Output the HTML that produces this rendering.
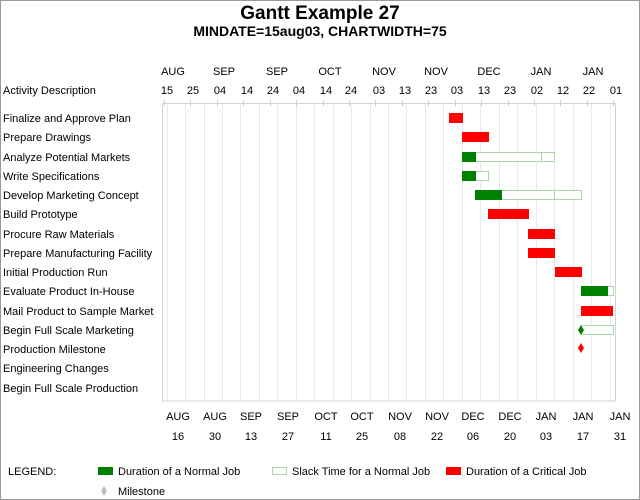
<!DOCTYPE html>
<html><head><meta charset="utf-8"><style>
html,body{margin:0;padding:0;background:#fff}
svg{display:block}
text{font-family:"Liberation Sans",Arial,sans-serif;fill:#000}
</style></head><body>
<svg width="640" height="500" viewBox="0 0 640 500" xmlns="http://www.w3.org/2000/svg">
<rect x="0.5" y="0.5" width="639" height="499" fill="#fff" stroke="#999"/>
<text x="320" y="19" font-size="19" font-weight="bold" text-anchor="middle">Gantt Example 27</text>
<text x="320" y="36" font-size="14" font-weight="bold" text-anchor="middle">MINDATE=15aug03, CHARTWIDTH=75</text>
<g font-size="11" text-anchor="middle">
<text x="173" y="75">AUG</text><text x="224" y="75">SEP</text><text x="277" y="75">SEP</text><text x="330" y="75">OCT</text><text x="384" y="75">NOV</text><text x="436" y="75">NOV</text><text x="489" y="75">DEC</text><text x="541" y="75">JAN</text><text x="593" y="75">JAN</text>
<text x="167" y="94">15</text><text x="193" y="94">25</text><text x="220" y="94">04</text><text x="247" y="94">14</text><text x="273" y="94">24</text><text x="299" y="94">04</text><text x="326" y="94">14</text><text x="351" y="94">24</text><text x="379" y="94">03</text><text x="405" y="94">13</text><text x="431" y="94">23</text><text x="457" y="94">03</text><text x="484" y="94">13</text><text x="510" y="94">23</text><text x="537" y="94">02</text><text x="563" y="94">12</text><text x="589" y="94">22</text><text x="616" y="94">01</text>
<text x="178" y="420">AUG</text><text x="215" y="420">AUG</text><text x="251" y="420">SEP</text><text x="288" y="420">SEP</text><text x="326" y="420">OCT</text><text x="362" y="420">OCT</text><text x="400" y="420">NOV</text><text x="437" y="420">NOV</text><text x="473" y="420">DEC</text><text x="510" y="420">DEC</text><text x="546" y="420">JAN</text><text x="583" y="420">JAN</text><text x="620" y="420">JAN</text>
<text x="178" y="440">16</text><text x="215" y="440">30</text><text x="251" y="440">13</text><text x="288" y="440">27</text><text x="326" y="440">11</text><text x="362" y="440">25</text><text x="400" y="440">08</text><text x="437" y="440">22</text><text x="473" y="440">06</text><text x="510" y="440">20</text><text x="546" y="440">03</text><text x="583" y="440">17</text><text x="620" y="440">31</text>
</g>
<g font-size="11">
<text x="3" y="94">Activity Description</text>
<text x="3" y="122">Finalize and Approve Plan</text>
<text x="3" y="141">Prepare Drawings</text>
<text x="3" y="161">Analyze Potential Markets</text>
<text x="3" y="180">Write Specifications</text>
<text x="3" y="199">Develop Marketing Concept</text>
<text x="3" y="218">Build Prototype</text>
<text x="3" y="238">Procure Raw Materials</text>
<text x="3" y="257">Prepare Manufacturing Facility</text>
<text x="3" y="276">Initial Production Run</text>
<text x="3" y="295">Evaluate Product In-House</text>
<text x="3" y="315">Mail Product to Sample Market</text>
<text x="3" y="334">Begin Full Scale Marketing</text>
<text x="3" y="353">Production Milestone</text>
<text x="3" y="372">Engineering Changes</text>
<text x="3" y="392">Begin Full Scale Production</text>
</g>
<g stroke="#e6e9f0" stroke-width="1">
<line x1="167.5" y1="103" x2="167.5" y2="401"/><line x1="185.5" y1="103" x2="185.5" y2="401"/><line x1="204.5" y1="103" x2="204.5" y2="401"/><line x1="222.5" y1="103" x2="222.5" y2="401"/><line x1="240.5" y1="103" x2="240.5" y2="401"/><line x1="259.5" y1="103" x2="259.5" y2="401"/><line x1="277.5" y1="103" x2="277.5" y2="401"/><line x1="296.5" y1="103" x2="296.5" y2="401"/><line x1="314.5" y1="103" x2="314.5" y2="401"/><line x1="333.5" y1="103" x2="333.5" y2="401"/><line x1="351.5" y1="103" x2="351.5" y2="401"/><line x1="370.5" y1="103" x2="370.5" y2="401"/><line x1="388.5" y1="103" x2="388.5" y2="401"/><line x1="406.5" y1="103" x2="406.5" y2="401"/><line x1="425.5" y1="103" x2="425.5" y2="401"/><line x1="443.5" y1="103" x2="443.5" y2="401"/><line x1="462.5" y1="103" x2="462.5" y2="401"/><line x1="480.5" y1="103" x2="480.5" y2="401"/><line x1="499.5" y1="103" x2="499.5" y2="401"/><line x1="517.5" y1="103" x2="517.5" y2="401"/><line x1="536.5" y1="103" x2="536.5" y2="401"/><line x1="554.5" y1="103" x2="554.5" y2="401"/><line x1="573.5" y1="103" x2="573.5" y2="401"/><line x1="591.5" y1="103" x2="591.5" y2="401"/><line x1="610.5" y1="103" x2="610.5" y2="401"/>
</g>
<rect x="162.5" y="103.5" width="453" height="297.5" fill="none" stroke="#d0d3da"/>
<g stroke="#c8cbd2">
<line x1="164.5" y1="100" x2="164.5" y2="106"/><line x1="190.5" y1="100" x2="190.5" y2="106"/><line x1="217.5" y1="100" x2="217.5" y2="106"/><line x1="243.5" y1="100" x2="243.5" y2="106"/><line x1="270.5" y1="100" x2="270.5" y2="106"/><line x1="296.5" y1="100" x2="296.5" y2="106"/><line x1="323.5" y1="100" x2="323.5" y2="106"/><line x1="349.5" y1="100" x2="349.5" y2="106"/><line x1="375.5" y1="100" x2="375.5" y2="106"/><line x1="402.5" y1="100" x2="402.5" y2="106"/><line x1="428.5" y1="100" x2="428.5" y2="106"/><line x1="455.5" y1="100" x2="455.5" y2="106"/><line x1="481.5" y1="100" x2="481.5" y2="106"/><line x1="508.5" y1="100" x2="508.5" y2="106"/><line x1="534.5" y1="100" x2="534.5" y2="106"/><line x1="560.5" y1="100" x2="560.5" y2="106"/><line x1="587.5" y1="100" x2="587.5" y2="106"/><line x1="613.5" y1="100" x2="613.5" y2="106"/>
</g>
<g>
<rect x="449" y="113" width="14" height="10" fill="#f00"/>
<rect x="462" y="132" width="27" height="10" fill="#f00"/>
<rect x="462.5" y="152.5" width="92" height="9" fill="#fff" stroke="#aad8aa"/><line x1="541.5" y1="152" x2="541.5" y2="162" stroke="#aad8aa"/>
<rect x="462" y="152" width="14" height="10" fill="#008000"/>
<rect x="462.5" y="171.5" width="26" height="9" fill="#fff" stroke="#aad8aa"/>
<rect x="462" y="171" width="14" height="10" fill="#008000"/>
<rect x="475.5" y="190.5" width="106" height="9" fill="#fff" stroke="#aad8aa"/><line x1="554.5" y1="190" x2="554.5" y2="200" stroke="#aad8aa"/>
<rect x="475" y="190" width="27" height="10" fill="#008000"/>
<rect x="488" y="209" width="41" height="10" fill="#f00"/>
<rect x="528" y="229" width="27" height="10" fill="#f00"/>
<rect x="528" y="248" width="27" height="10" fill="#f00"/>
<rect x="555" y="267" width="27" height="10" fill="#f00"/>
<rect x="581.5" y="286.5" width="32" height="9" fill="#fff" stroke="#aad8aa"/>
<rect x="581" y="286" width="27" height="10" fill="#008000"/>
<rect x="581" y="306" width="32" height="10" fill="#f00"/>
<rect x="581.5" y="325.5" width="32" height="9" fill="#fff" stroke="#aad8aa"/>
<polygon points="581,325 584,330 581,335 578,330" fill="#008000"/>
<polygon points="581,343 584,348 581,353 578,348" fill="#f00"/>
</g>
<g font-size="11">
<text x="8" y="475">LEGEND:</text>
<rect x="98" y="467" width="15" height="8" fill="#008000"/>
<text x="118" y="475">Duration of a Normal Job</text>
<rect x="272.5" y="467.5" width="14" height="7" fill="#fff" stroke="#aad8aa"/>
<text x="292" y="475">Slack Time for a Normal Job</text>
<rect x="446" y="467" width="15" height="8" fill="#f00"/>
<text x="466" y="475">Duration of a Critical Job</text>
<polygon points="104,486 107,491 104,496 101,491" fill="#c0c0c0"/>
<text x="118" y="495">Milestone</text>
</g>
</svg>
</body></html>
